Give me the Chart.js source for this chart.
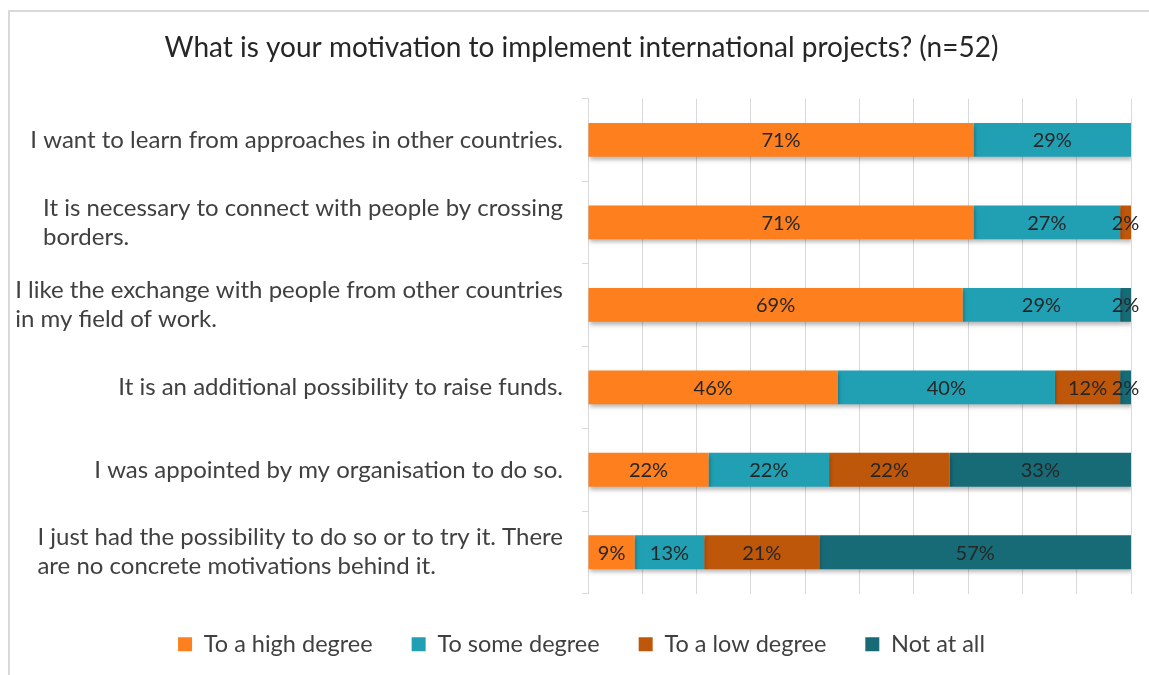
<!DOCTYPE html>
<html>
<head>
<meta charset="utf-8">
<script src="https://cdn.jsdelivr.net/npm/chart.js@4"></script>
<style>
  html, body { margin: 0; padding: 0; background: #fff; }
  #wrap { width: 1149px; height: 675px; position: relative; }
</style>
</head>
<body>
<div id="wrap"><canvas id="motivation-chart"></canvas></div>
<script>
// chart data
const categories = [
  ["I want to learn from approaches in other countries."],
  ["It is necessary to connect with people by crossing", "borders."],
  ["I like the exchange with people from other countries", "in my field of work."],
  ["It is an additional possibility to raise funds."],
  ["I was appointed by my organisation to do so."],
  ["I just had the possibility to do so or to try it. There", "are no concrete motivations behind it."],
]
const seriesNames = ["To a high degree", "To some degree", "To a low degree", "Not at all"]
const highDegree = [71, 71, 69, 46, 22.2, 8.6]
const someDegree = [29, 27, 29, 40, 22.2, 12.8]
const lowDegree = [0, 2, 0, 12, 22.2, 21.2]
const notAtAll = [0, 0, 2, 2, 33.4, 57.4]
const seriesColors = ["#FD7F1E", "#21A0B4", "#BF570B", "#176B77"]

const FONT = "Lato, 'Open Sans', sans-serif"
const LEFT_PAD = 32
const AXIS_RIGHT = 588

// border around the whole chart
const borderPlugin = {
  id: "border",
  beforeDraw(chart) {
    const ctx = chart.ctx
    ctx.save()
    ctx.fillStyle = "#fff"
    ctx.fillRect(0, 0, chart.width, chart.height)
    ctx.strokeStyle = "#d9d9d9"
    ctx.lineWidth = 2
    ctx.strokeRect(9, 11, chart.width + 20, chart.height + 20)
    ctx.restore()
  },
}

// soft shadow under the bars
const shadowPlugin = {
  id: "barShadow",
  beforeDatasetsDraw(chart) {
    const ctx = chart.ctx
    ctx.save()
    ctx.shadowColor = "rgba(0,0,0,0.28)"
    ctx.shadowBlur = 4
    ctx.shadowOffsetX = 1
    ctx.shadowOffsetY = 3
  },
  afterDatasetsDraw(chart) {
    chart.ctx.restore()
  },
}

// category labels: block right aligned, lines left aligned
const categoryLabelPlugin = {
  id: "categoryLabels",
  afterDraw(chart) {
    const ctx = chart.ctx
    const yScale = chart.scales.y
    ctx.save()
    ctx.font = "24px " + FONT
    ctx.fillStyle = "#404040"
    ctx.textBaseline = "middle"
    ctx.textAlign = "left"
    const lineH = 29
    categories.forEach((lines, i) => {
      const yc = yScale.getPixelForValue(i)
      const w = Math.max(...lines.map((l) => ctx.measureText(l).width))
      const x0 = AXIS_RIGHT - 25 - w
      lines.forEach((line, j) => {
        const y = yc + (j - (lines.length - 1) / 2) * lineH
        ctx.fillText(line, x0, y)
      })
    })
    ctx.restore()
  },
}

// value labels in the middle of each segment
const valueLabelPlugin = {
  id: "valueLabels",
  afterDatasetsDraw(chart) {
    const ctx = chart.ctx
    ctx.save()
    ctx.font = "20px " + FONT
    ctx.fillStyle = "#262626"
    ctx.textAlign = "center"
    ctx.textBaseline = "middle"
    chart.data.datasets.forEach((ds, di) => {
      const meta = chart.getDatasetMeta(di)
      meta.data.forEach((bar, i) => {
        const v = ds.data[i]
        if (!v) return
        ctx.fillText(Math.round(v) + "%", (bar.x + bar.base) / 2, bar.y + 1)
      })
    })
    ctx.restore()
  },
}

const seriesData = [highDegree, someDegree, lowDegree, notAtAll]

const motivationData = {
  labels: categories,
  datasets: seriesNames.map((name, i) => ({
    label: name,
    data: seriesData[i],
    backgroundColor: seriesColors[i],
    borderWidth: 0,
    barPercentage: 0.41,
    categoryPercentage: 1,
  })),
}

const motivationOptions = {
  indexAxis: "y",
  responsive: false,
  animation: false,
  layout: {
    padding: { left: LEFT_PAD, right: 18, top: 20, bottom: 9 },
  },
  scales: {
    x: {
      stacked: true,
      min: 0,
      max: 100,
      ticks: { display: false, stepSize: 10 },
      grid: { color: "#d9d9d9", drawTicks: false },
      border: { display: false },
    },
    y: {
      stacked: true,
      offset: true,
      ticks: { display: false },
      grid: {
        drawOnChartArea: false,
        offset: true,
        color: "#d9d9d9",
        tickLength: 6,
      },
      border: { color: "#d9d9d9" },
      afterFit(scale) {
        scale.width = AXIS_RIGHT - LEFT_PAD
      },
    },
  },
  plugins: {
    title: {
      display: true,
      text: "What is your motivation to implement international projects? (n=52)",
      color: "#262626",
      font: { family: FONT, size: 28, weight: "normal" },
      padding: { top: 11, bottom: 34 },
    },
    legend: {
      position: "bottom",
      labels: {
        color: "#404040",
        font: { family: FONT, size: 23.5 },
        boxWidth: 14,
        boxHeight: 14,
        padding: 39,
      },
    },
    tooltip: { enabled: false },
  },
}

const canvas = document.getElementById("motivation-chart")
canvas.width = 1149
canvas.height = 675

let motivationChart = new Chart(canvas, {
  type: "bar",
  data: motivationData,
  options: motivationOptions,
  plugins: [borderPlugin, shadowPlugin, valueLabelPlugin, categoryLabelPlugin],
})
</script>
</body>
</html>
